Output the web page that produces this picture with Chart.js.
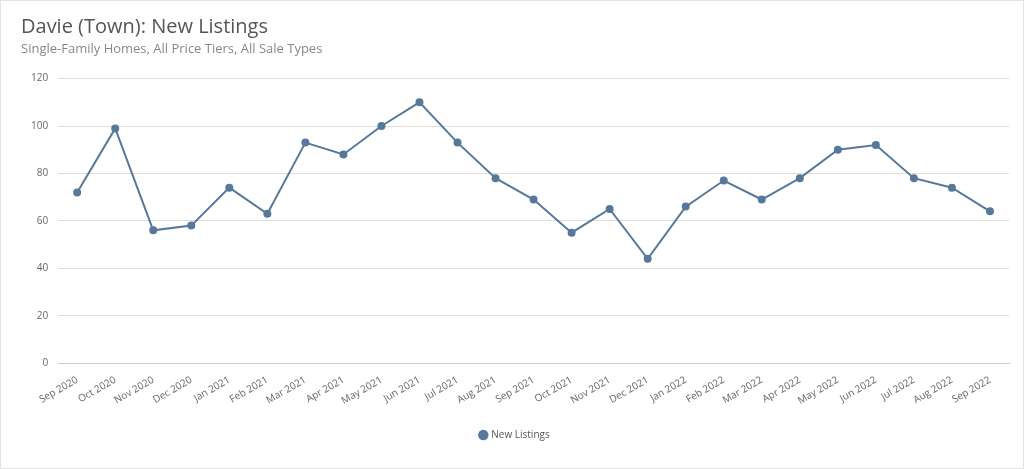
<!DOCTYPE html>
<html lang="en">
<head>
<meta charset="UTF-8">
<title>Davie (Town): New Listings</title>
<style>
  html, body { margin: 0; padding: 0; background: #fff; }
  #wrap { position: relative; width: 1022px; height: 467px; border: 1px solid #e3e3e3; }
</style>
</head>
<body>
<div id="wrap"><canvas id="chart"></canvas></div>
<script src="https://cdn.jsdelivr.net/npm/chart.js"></script>
<script>
const months = ['Sep 2020', 'Oct 2020', 'Nov 2020', 'Dec 2020', 'Jan 2021', 'Feb 2021', 'Mar 2021', 'Apr 2021',
  'May 2021', 'Jun 2021', 'Jul 2021', 'Aug 2021', 'Sep 2021', 'Oct 2021', 'Nov 2021', 'Dec 2021',
  'Jan 2022', 'Feb 2022', 'Mar 2022', 'Apr 2022', 'May 2022', 'Jun 2022', 'Jul 2022', 'Aug 2022', 'Sep 2022'];
const newListings = [72, 99, 56, 58, 74, 63, 93, 88, 100, 110, 93, 78, 69, 55, 65, 44, 66, 77, 69, 78, 90, 92, 78, 74, 64];

const font = 'Open Sans, sans-serif';
const blue = '#56799a';

new Chart(document.getElementById('chart'), {
  type: 'line',
  data: {
    labels: months,
    datasets: [{
      label: 'New Listings',
      data: newListings,
      borderColor: blue,
      backgroundColor: blue,
      borderWidth: 2,
      pointRadius: 3,
      tension: 0
    }]
  },
  options: {
    responsive: true,
    maintainAspectRatio: false,
    animation: false,
    layout: { padding: { left: 20, right: 14, top: 4, bottom: 18 } },
    plugins: {
      title: {
        display: true, text: 'Davie (Town): New Listings', align: 'start', color: '#555',
        font: { family: font, size: 20, weight: 'normal' }, padding: { top: 10, bottom: 0 }
      },
      subtitle: {
        display: true, text: 'Single-Family Homes, All Price Tiers, All Sale Types', align: 'start', color: '#888',
        font: { family: font, size: 13 }, padding: { top: 2, bottom: 22 }
      },
      legend: {
        position: 'bottom',
        labels: { usePointStyle: true, pointStyle: 'circle', boxWidth: 6, boxHeight: 6, color: '#555', font: { family: font, size: 10 }, padding: 20 }
      }
    },
    scales: {
      x: {
        offset: true,
        grid: { display: false },
        border: { color: '#ccc' },
        ticks: { color: '#666', font: { family: font, size: 10 }, maxRotation: 30, minRotation: 30, autoSkip: false }
      },
      y: {
        min: 0, max: 120,
        ticks: { stepSize: 20, color: '#666', font: { family: font, size: 10 }, padding: 10 },
        grid: { color: '#ddd', drawTicks: false },
        border: { display: false }
      }
    }
  }
});
</script>
</body>
</html>
